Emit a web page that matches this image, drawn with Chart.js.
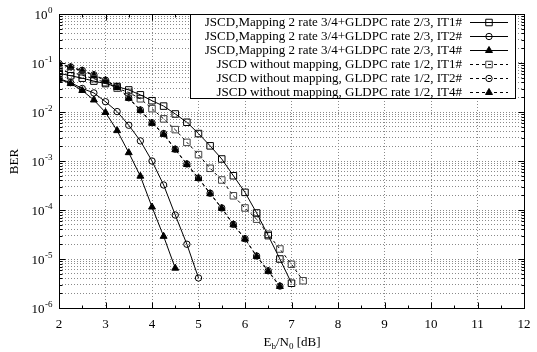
<!DOCTYPE html>
<html><head><meta charset="utf-8">
<script src="https://cdn.jsdelivr.net/npm/chart.js@4"></script>
<style>html,body{margin:0;padding:0;background:#fff;overflow:hidden}canvas{display:block}</style>
</head><body>
<canvas id="c" width="537" height="352"></canvas>
<script>
// ---- data ----
const labels = [
  'JSCD,Mapping 2 rate 3/4+GLDPC rate 2/3, IT1#',
  'JSCD,Mapping 2 rate 3/4+GLDPC rate 2/3, IT2#',
  'JSCD,Mapping 2 rate 3/4+GLDPC rate 2/3, IT4#',
  'JSCD without mapping, GLDPC rate 1/2, IT1#',
  'JSCD without mapping, GLDPC rate 1/2, IT2#',
  'JSCD without mapping, GLDPC rate 1/2, IT4#'
];
const ebn0Map1 = [2,2.25,2.5,2.75,3,3.25,3.5,3.75,4,4.25,4.5,4.75,5,5.25,5.5,5.75,6,6.25,6.5,6.75,7];
const berMap1  = [0.0617,0.055,0.049,0.0427,0.038,0.0331,0.0282,0.0224,0.017,0.0132,0.00912,0.00617,0.00363,0.00204,0.0011,5.0e-4,2.29e-4,8.7e-5,3.0e-5,1.0e-5,3.2e-6];
const ebn0Map2 = [2,2.25,2.5,2.75,3,3.25,3.5,3.75,4,4.25,4.5,4.75,5];
const berMap2  = [0.0479,0.0398,0.0302,0.0245,0.0162,0.0102,0.00537,0.00257,1.0e-3,3.24e-4,7.9e-5,2.0e-5,4.1e-6];
const ebn0Map4 = [2,2.25,2.5,2.75,3,3.25,3.5,3.75,4,4.25,4.5];
const berMap4  = [0.0468,0.038,0.0275,0.0176,0.0098,0.00417,0.00148,4.9e-4,1.15e-4,2.9e-5,6.5e-6];
const ebn0No1  = [2,2.25,2.5,2.75,3,3.25,3.5,3.75,4,4.25,4.5,4.75,5,5.25,5.5,5.75,6,6.25,6.5,6.75,7,7.25];
const berNo1   = [0.0708,0.0646,0.0562,0.0479,0.0398,0.0305,0.0251,0.0186,0.0117,0.00724,0.00437,0.0024,0.00135,7.1e-4,4.1e-4,1.95e-4,1.1e-4,6.5e-5,3.2e-5,1.6e-5,7.8e-6,3.6e-6];
const ebn0No2  = [2,2.25,2.5,2.75,3,3.25,3.5,3.75,4,4.25,4.5,4.75,5,5.25,5.5,5.75,6,6.25,6.5,6.75];
const berNo2   = [0.0977,0.0832,0.0708,0.0575,0.0447,0.0331,0.0195,0.011,0.00603,0.00363,0.00174,8.7e-4,4.5e-4,2.2e-4,1.1e-4,5.1e-5,2.6e-5,1.15e-5,5.75e-6,2.8e-6];
const ebn0No4  = [2,2.25,2.5,2.75,3,3.25,3.5,3.75,4,4.25,4.5,4.75,5,5.25,5.5,5.75,6,6.25,6.5,6.75];
const berNo4   = [0.095,0.081,0.069,0.056,0.044,0.032,0.019,0.0107,0.0059,0.0035,0.0017,8.5e-4,4.4e-4,2.15e-4,1.08e-4,5.0e-5,2.55e-5,1.13e-5,5.6e-6,2.75e-6];

const xTickLabels = [2,3,4,5,6,7,8,9,10,11,12];
const xMinorTicks = [2.5,3.5,4.5,5.5,6.5,7.5,8.5,9.5,10.5,11.5];
const yDecades = [1e-6,1e-5,1e-4,1e-3,1e-2,1e-1,1];
const yExponents = ['-6','-5','-4','-3','-2','-1','0'];
const yMultipliers = [1,2,3,4,5,6,7,8,9];

const FONT = '"Liberation Serif", "Times New Roman", serif';
const pts = (xs, ys) => xs.map((v, i) => ({x: v, y: ys[i]}));

function ds(i, xs, ys, style, dashed, color, fill) {
  return {
    label: labels[i], data: pts(xs, ys),
    borderColor: '#000', borderWidth: 1, borderDash: dashed ? [3,3] : [],
    pointStyle: style, pointRadius: style === 'rect' ? 4.6 : (style === 'triangle' ? 4 : 3.2),
    pointBorderColor: color, pointBackgroundColor: fill, pointBorderWidth: 1,
    pointHoverRadius: 0, tension: 0, fill: false
  };
}

const datasets = [
  ds(0, ebn0Map1, berMap1, 'rect', false, '#000', 'rgba(255,255,255,0)'),
  ds(1, ebn0Map2, berMap2, 'circle', false, '#000', 'rgba(255,255,255,0)'),
  ds(2, ebn0Map4, berMap4, 'triangle', false, '#000', '#000'),
  ds(3, ebn0No1, berNo1, 'rect', true, '#444', 'rgba(255,255,255,0)'),
  ds(4, ebn0No2, berNo2, 'circle', true, '#000', 'rgba(255,255,255,0)'),
  ds(5, ebn0No4, berNo4, 'triangle', true, '#000', '#000')
];

const decor = {
  id: 'decor',
  afterDatasetsDraw(chart) {
    const {ctx, chartArea: a, scales: {x, y}} = chart;
    const L = Math.round(a.left) + 0.5, R = Math.round(a.right) + 0.5;
    const T = Math.round(a.top) + 0.5, B = Math.round(a.bottom) + 0.5;
    ctx.save();
    ctx.strokeStyle = '#000'; ctx.lineWidth = 1; ctx.setLineDash([]);
    ctx.beginPath();
    xTickLabels.forEach(v => { const p = Math.round(x.getPixelForValue(v)) + 0.5;
      ctx.moveTo(p, B); ctx.lineTo(p, B - 6); ctx.moveTo(p, T); ctx.lineTo(p, T + 6); });
    xMinorTicks.forEach(v => { const p = Math.round(x.getPixelForValue(v)) + 0.5;
      ctx.moveTo(p, B); ctx.lineTo(p, B - 3); ctx.moveTo(p, T); ctx.lineTo(p, T + 3); });
    yDecades.forEach(d => {
      yMultipliers.forEach(m => {
        const v = d * m; if (v > 1) return;
        const p = Math.round(y.getPixelForValue(v)) + 0.5;
        const len = m === 1 ? 6 : 3;
        ctx.moveTo(L, p); ctx.lineTo(L + len, p); ctx.moveTo(R, p); ctx.lineTo(R - len, p);
      });
    });
    ctx.stroke();
    ctx.strokeRect(L, T, R - L, B - T);

    ctx.fillStyle = '#000';
    ctx.font = '13px ' + FONT; ctx.textAlign = 'center'; ctx.textBaseline = 'alphabetic';
    xTickLabels.forEach(v => ctx.fillText(String(v), x.getPixelForValue(v), B + 19));
    yDecades.forEach((d, i) => {
      const p = y.getPixelForValue(d);
      ctx.font = '9px ' + FONT; const ew = ctx.measureText(yExponents[i]).width;
      const right = L - 7;
      ctx.textAlign = 'left'; ctx.fillText(yExponents[i], right - ew, p - 1);
      ctx.font = '13px ' + FONT; ctx.textAlign = 'right'; ctx.fillText('10', right - ew - 0.5, p + 5);
    });
    ctx.save(); ctx.translate(18, (T + B) / 2); ctx.rotate(-Math.PI / 2);
    ctx.font = '13px ' + FONT; ctx.textAlign = 'center'; ctx.fillText('BER', 0, 0); ctx.restore();
    const parts = [['E', 13, 0], ['b', 9, 3], ['/N', 13, 0], ['0', 9, 3], [' [dB]', 13, 0]];
    let tw = 0; parts.forEach(p => { ctx.font = p[1] + 'px ' + FONT; tw += ctx.measureText(p[0]).width; });
    let cx = (L + R) / 2 - tw / 2; ctx.textAlign = 'left';
    parts.forEach(p => { ctx.font = p[1] + 'px ' + FONT; ctx.fillText(p[0], cx, 346 + p[2]); cx += ctx.measureText(p[0]).width; });

    // legend
    const lx0 = 190.5, lx1 = 515.5, ly0 = T, ly1 = 98.5;
    ctx.fillStyle = '#fff'; ctx.fillRect(lx0, ly0, lx1 - lx0, ly1 - ly0);
    ctx.strokeStyle = '#000'; ctx.strokeRect(lx0, ly0, lx1 - lx0, ly1 - ly0);
    ctx.font = '13px ' + FONT; ctx.textAlign = 'right'; ctx.textBaseline = 'middle';
    chart.data.datasets.forEach((dset, i) => {
      const cy = 22 + i * 14;
      ctx.fillStyle = '#000'; ctx.fillText(dset.label, 462, cy + 1);
      const yy = Math.round(cy) + 0.5;
      ctx.beginPath(); ctx.strokeStyle = '#000'; ctx.lineWidth = 1;
      ctx.setLineDash(dset.borderDash); ctx.moveTo(470, yy); ctx.lineTo(508, yy); ctx.stroke();
      ctx.setLineDash([]);
      ctx.fillStyle = dset.pointBackgroundColor; ctx.strokeStyle = dset.pointBorderColor;
      Chart.helpers.drawPoint(ctx, {pointStyle: dset.pointStyle, radius: dset.pointRadius, rotation: 0, borderWidth: 1}, 489, yy);
    });
    ctx.restore();
  }
};

new Chart(document.getElementById('c'), {
  type: 'line',
  data: {datasets},
  options: {
    responsive: false, animation: false, devicePixelRatio: 1,
    layout: {padding: {left: 59, right: 13, top: 14, bottom: 44}},
    plugins: {legend: {display: false}, tooltip: {enabled: false}},
    scales: {
      x: {
        type: 'linear', min: 2, max: 12,
        ticks: {display: false},
        afterBuildTicks: s => { s.ticks = xTickLabels.map(v => ({value: v})); },
        grid: {color: '#8a8a8a', drawTicks: false, lineWidth: 1},
        border: {display: false, dash: [1, 2]}
      },
      y: {
        type: 'logarithmic', min: 1e-6, max: 1,
        ticks: {display: false},
        afterBuildTicks: s => {
          const t = [];
          yDecades.forEach(d => yMultipliers.forEach(m => { if (d * m <= 1) t.push({value: d * m}); }));
          s.ticks = t;
        },
        grid: {color: '#8a8a8a', drawTicks: false, lineWidth: 1},
        border: {display: false, dash: [1, 2]}
      }
    }
  },
  plugins: [decor]
});
</script>
</body></html>
